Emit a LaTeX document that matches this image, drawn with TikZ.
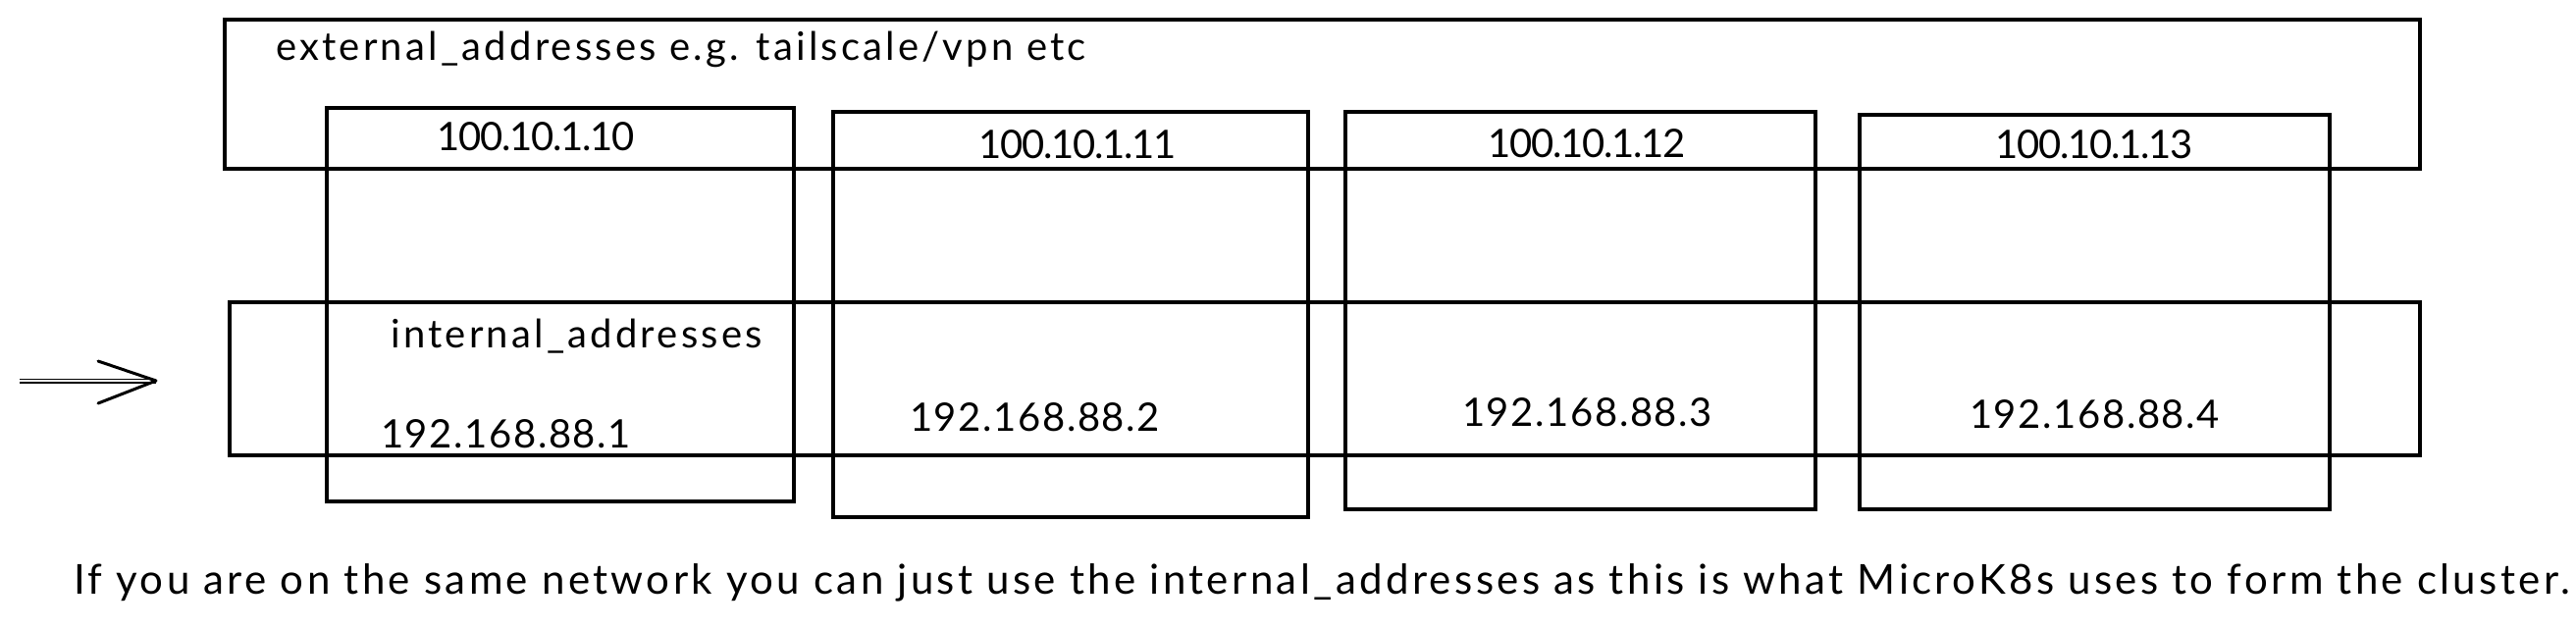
\documentclass[tikz,border=0pt]{standalone}
\usepackage{fontspec}
\setmainfont{Lato}
\newfontfamily\widefont[LetterSpace=8]{Lato}
\newfontfamily\ipwidefont[LetterSpace=4]{Lato}
\newfontfamily\ipnarrowfont[LetterSpace=-3]{Lato}
\begin{document}
\begin{tikzpicture}[x=1pt,y=-1pt,
  frame/.style={draw=black,line width=3.2pt,inner sep=0pt,outer sep=0pt,anchor=north west},
  lbl/.style={font=\widefont\fontsize{40}{44}\selectfont,inner sep=0pt,anchor=west},
  ipw/.style={font=\ipwidefont\fontsize{40}{44}\selectfont,inner sep=0pt,anchor=west},
  ip/.style={font=\ipnarrowfont\fontsize{40}{44}\selectfont,inner sep=0pt}]
\useasboundingbox (0,0) rectangle (2625,640);
% big horizontal bands
\node[frame,minimum width=2237pt,minimum height=152pt] (ext) at (229,20) {};
\node[frame,minimum width=2232pt,minimum height=156pt] (int) at (234,308) {};
% machine boxes
\node[frame,minimum width=476pt,minimum height=401pt] (b1) at (333,110) {};
\node[frame,minimum width=484pt,minimum height=413pt] (b2) at (849,114) {};
\node[frame,minimum width=479pt,minimum height=405pt] (b3) at (1371,114) {};
\node[frame,minimum width=479pt,minimum height=402pt] (b4) at (1895,117) {};
% texts
\node[lbl] (extlbl) at (281,50) {external\_addresses e.g. tailscale/vpn etc};
\node[ip] (e1) at (546,139) {100.10.1.10};
\node[ip] (e2) at (1098,147) {100.10.1.11};
\node[ip] (e3) at (1617,146) {100.10.1.12};
\node[ip] (e4) at (2134,147) {100.10.1.13};
\node[lbl] (intlbl) at (398,343) {internal\_addresses};
\node[ipw] (i1) at (388,442) {192.168.88.1};
\node[ipw] (i2) at (927,425) {192.168.88.2};
\node[ipw] (i3) at (1490,420) {192.168.88.3};
\node[ipw] (i4) at (2007,422) {192.168.88.4};
\node[lbl,font=\widefont\fontsize{42}{46}\selectfont] (note) at (75,594) {If you are on the same network you can just use the internal\_addresses as this is what MicroK8s uses to form the cluster.};
% arrow
\coordinate (as) at (20,388);
\coordinate (at) at (159,388);
\coordinate (h1) at (100,368);
\coordinate (h2) at (100,411);
\draw[line width=1.5pt,double,double distance=2pt] (as) -- (at);
\draw[line width=3pt,line cap=round,line join=round] (h1) -- (at) -- (h2);
\end{tikzpicture}
\end{document}
